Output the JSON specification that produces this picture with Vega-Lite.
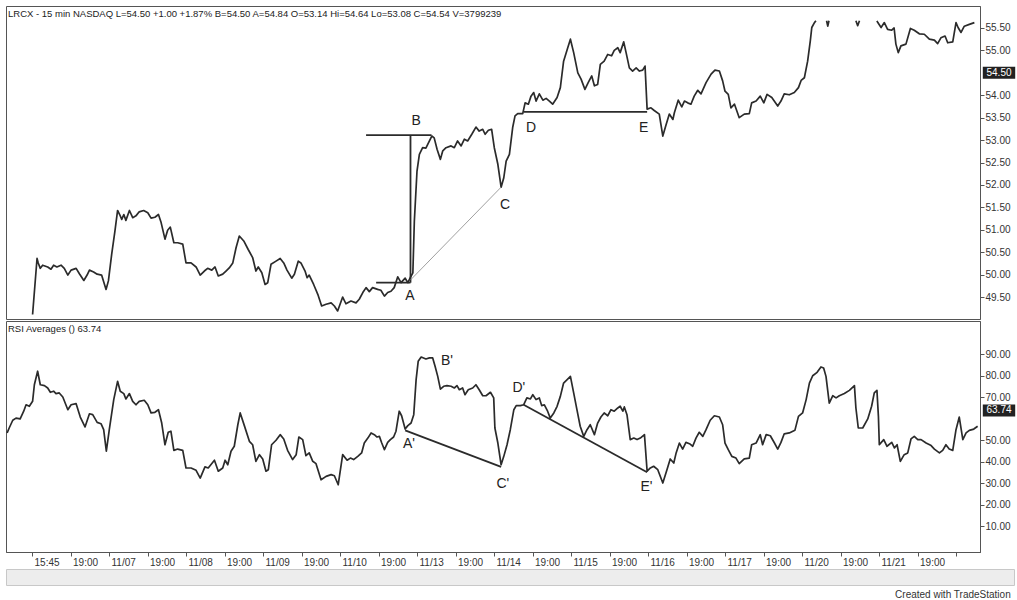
{
  "$schema": "https://vega.github.io/schema/vega-lite/v6.json",
  "padding": {"left": 5, "top": 5, "right": 0, "bottom": 0},
  "background": "white",
  "config": {
    "font": "Liberation Sans",
    "view": {"stroke": "#555555", "strokeWidth": 1},
    "axis": {"grid": false, "labelFont": "Liberation Sans", "labelFontSize": 10, "labelColor": "#333333", "domainColor": "#555555", "tickColor": "#555555", "title": null}
  },
  "title": {"text": "Created with TradeStation", "orient": "bottom", "anchor": "end", "frame": "bounds", "fontSize": 10, "fontWeight": "normal", "color": "#333333", "offset": 4, "dx": -5},
  "datasets": {
    "price": [
      {"b":0.2,"p":49.11,"s":1},{"b":1.7,"p":50.36,"s":1},{"b":2.1,"p":50.26,"s":1},{"b":2.8,"p":50.14,"s":1},{"b":3.6,"p":50.21,"s":1},{"b":5.3,"p":50.17,"s":1},{"b":6.4,"p":50.12,"s":1},{"b":7.3,"p":50.21,"s":1},{"b":8.4,"p":50.17,"s":1},{"b":9.8,"p":50.21,"s":1},{"b":10.9,"p":50.14,"s":1},{"b":12.1,"p":49.99,"s":1},{"b":13.2,"p":50.10,"s":1},{"b":14.9,"p":50.14,"s":1},{"b":16.0,"p":50.02,"s":1},{"b":17.5,"p":49.87,"s":1},{"b":18.6,"p":49.99,"s":1},{"b":19.4,"p":50.10,"s":1},{"b":20.8,"p":50.06,"s":1},{"b":22.0,"p":50.01,"s":1},{"b":23.5,"p":49.99,"s":1},{"b":25.0,"p":49.67,"s":1},{"b":25.8,"p":49.86,"s":1},{"b":26.9,"p":50.45,"s":1},{"b":28.0,"p":50.97,"s":1},{"b":28.9,"p":51.43,"s":1},{"b":29.6,"p":51.34,"s":1},{"b":30.3,"p":51.23,"s":1},{"b":31.0,"p":51.34,"s":1},{"b":31.7,"p":51.21,"s":1},{"b":32.9,"p":51.43,"s":1},{"b":34.0,"p":51.27,"s":1},{"b":35.1,"p":51.31,"s":1},{"b":36.2,"p":51.40,"s":1},{"b":37.7,"p":51.43,"s":1},{"b":39.1,"p":51.38,"s":1},{"b":40.2,"p":51.26,"s":1},{"b":41.5,"p":51.28,"s":1},{"b":42.7,"p":51.34,"s":1},{"b":43.6,"p":51.16,"s":1},{"b":44.9,"p":50.79,"s":1},{"b":45.8,"p":50.99,"s":1},{"b":46.7,"p":51.06,"s":1},{"b":47.9,"p":50.71,"s":1},{"b":49.2,"p":50.71,"s":1},{"b":50.9,"p":50.68,"s":1},{"b":52.0,"p":50.26,"s":1},{"b":53.7,"p":50.26,"s":1},{"b":55.4,"p":50.17,"s":1},{"b":56.8,"p":49.99,"s":1},{"b":58.2,"p":50.08,"s":1},{"b":59.3,"p":50.14,"s":1},{"b":60.7,"p":50.10,"s":1},{"b":61.8,"p":50.17,"s":1},{"b":62.9,"p":49.97,"s":1},{"b":64.4,"p":50.01,"s":1},{"b":65.5,"p":50.08,"s":1},{"b":66.6,"p":50.15,"s":1},{"b":67.8,"p":50.26,"s":1},{"b":68.9,"p":50.60,"s":1},{"b":70.0,"p":50.86,"s":1},{"b":71.5,"p":50.75,"s":1},{"b":73.0,"p":50.56,"s":1},{"b":74.5,"p":50.38,"s":1},{"b":75.6,"p":50.08,"s":1},{"b":76.4,"p":50.17,"s":1},{"b":77.6,"p":50.04,"s":1},{"b":78.7,"p":49.78,"s":1},{"b":79.6,"p":49.82,"s":1},{"b":80.7,"p":50.23,"s":1},{"b":82.4,"p":50.30,"s":1},{"b":83.8,"p":50.36,"s":1},{"b":85.0,"p":50.26,"s":1},{"b":86.1,"p":50.10,"s":1},{"b":87.7,"p":49.92,"s":1},{"b":88.6,"p":50.01,"s":1},{"b":89.9,"p":50.30,"s":1},{"b":90.8,"p":50.26,"s":1},{"b":92.2,"p":50.08,"s":1},{"b":92.9,"p":49.93,"s":1},{"b":93.6,"p":49.99,"s":1},{"b":95.1,"p":49.78,"s":1},{"b":96.5,"p":49.56,"s":1},{"b":97.8,"p":49.30,"s":1},{"b":99.3,"p":49.34,"s":1},{"b":101.0,"p":49.37,"s":1},{"b":102.1,"p":49.30,"s":1},{"b":103.2,"p":49.19,"s":1},{"b":104.9,"p":49.50,"s":1},{"b":106.0,"p":49.35,"s":1},{"b":107.7,"p":49.41,"s":1},{"b":109.4,"p":49.37,"s":1},{"b":110.5,"p":49.45,"s":1},{"b":111.7,"p":49.60,"s":1},{"b":112.8,"p":49.71,"s":1},{"b":113.9,"p":49.62,"s":1},{"b":115.0,"p":49.71,"s":1},{"b":116.7,"p":49.67,"s":1},{"b":117.8,"p":49.65,"s":1},{"b":119.0,"p":49.52,"s":1},{"b":120.1,"p":49.60,"s":1},{"b":121.2,"p":49.63,"s":1},{"b":122.3,"p":49.71,"s":1},{"b":123.5,"p":49.95,"s":1},{"b":124.6,"p":49.82,"s":1},{"b":126.0,"p":49.92,"s":1},{"b":126.9,"p":49.82,"s":1},{"b":127.7,"p":49.93,"s":1},{"b":128.6,"p":50.04,"s":1},{"b":129.1,"p":51.19,"s":1},{"b":130.0,"p":52.31,"s":1},{"b":130.8,"p":52.68,"s":1},{"b":131.9,"p":52.83,"s":1},{"b":133.0,"p":52.82,"s":1},{"b":134.2,"p":52.98,"s":1},{"b":135.0,"p":53.09,"s":1},{"b":135.8,"p":53.05,"s":1},{"b":136.8,"p":52.79,"s":1},{"b":137.9,"p":52.57,"s":1},{"b":138.7,"p":52.76,"s":1},{"b":139.8,"p":52.83,"s":1},{"b":141.5,"p":52.87,"s":1},{"b":142.6,"p":52.83,"s":1},{"b":143.7,"p":52.98,"s":1},{"b":144.9,"p":52.87,"s":1},{"b":146.0,"p":53.02,"s":1},{"b":147.1,"p":52.98,"s":1},{"b":148.5,"p":53.13,"s":1},{"b":149.9,"p":53.29,"s":1},{"b":151.0,"p":53.20,"s":1},{"b":152.2,"p":53.24,"s":1},{"b":153.0,"p":53.13,"s":1},{"b":154.1,"p":53.22,"s":1},{"b":155.2,"p":53.24,"s":1},{"b":156.1,"p":52.83,"s":1},{"b":157.3,"p":52.46,"s":1},{"b":158.4,"p":51.95,"s":1},{"b":159.3,"p":52.16,"s":1},{"b":160.1,"p":52.53,"s":1},{"b":161.2,"p":52.68,"s":1},{"b":162.3,"p":53.28,"s":1},{"b":163.1,"p":53.54,"s":1},{"b":164.0,"p":53.59,"s":1},{"b":165.7,"p":53.59,"s":1},{"b":166.5,"p":53.83,"s":1},{"b":167.6,"p":53.80,"s":1},{"b":168.5,"p":53.98,"s":1},{"b":169.4,"p":54.06,"s":1},{"b":170.2,"p":53.87,"s":1},{"b":171.3,"p":54.03,"s":1},{"b":172.5,"p":53.89,"s":1},{"b":173.6,"p":53.93,"s":1},{"b":174.7,"p":53.87,"s":1},{"b":175.8,"p":53.80,"s":1},{"b":177.3,"p":53.95,"s":1},{"b":178.4,"p":54.17,"s":1},{"b":179.5,"p":54.76,"s":1},{"b":180.9,"p":55.06,"s":1},{"b":181.8,"p":55.25,"s":1},{"b":182.9,"p":54.95,"s":1},{"b":184.3,"p":54.50,"s":1},{"b":185.4,"p":54.36,"s":1},{"b":186.7,"p":54.13,"s":1},{"b":187.8,"p":54.28,"s":1},{"b":189.0,"p":54.43,"s":1},{"b":189.9,"p":54.21,"s":1},{"b":191.0,"p":54.24,"s":1},{"b":191.9,"p":54.69,"s":1},{"b":193.2,"p":54.76,"s":1},{"b":194.4,"p":54.91,"s":1},{"b":195.7,"p":54.88,"s":1},{"b":196.6,"p":55.00,"s":1},{"b":197.8,"p":55.06,"s":1},{"b":198.6,"p":54.95,"s":1},{"b":199.8,"p":55.19,"s":1},{"b":200.6,"p":54.95,"s":1},{"b":201.7,"p":54.61,"s":1},{"b":202.8,"p":54.54,"s":1},{"b":204.0,"p":54.61,"s":1},{"b":205.1,"p":54.54,"s":1},{"b":206.2,"p":54.56,"s":1},{"b":207.0,"p":54.65,"s":1},{"b":207.7,"p":53.69,"s":1},{"b":209.0,"p":53.72,"s":1},{"b":210.1,"p":53.66,"s":1},{"b":211.8,"p":53.58,"s":1},{"b":213.0,"p":53.09,"s":1},{"b":214.1,"p":53.34,"s":1},{"b":215.2,"p":53.58,"s":1},{"b":216.4,"p":53.46,"s":1},{"b":216.9,"p":53.61,"s":1},{"b":218.2,"p":53.89,"s":1},{"b":219.4,"p":53.74,"s":1},{"b":220.3,"p":53.87,"s":1},{"b":221.4,"p":53.83,"s":1},{"b":222.5,"p":53.80,"s":1},{"b":223.6,"p":53.98,"s":1},{"b":224.8,"p":54.11,"s":1},{"b":225.9,"p":54.03,"s":1},{"b":227.6,"p":54.28,"s":1},{"b":229.3,"p":54.47,"s":1},{"b":230.6,"p":54.56,"s":1},{"b":232.1,"p":54.54,"s":1},{"b":233.2,"p":54.32,"s":1},{"b":234.0,"p":54.09,"s":1},{"b":235.1,"p":54.02,"s":1},{"b":236.0,"p":53.72,"s":1},{"b":237.2,"p":53.80,"s":1},{"b":238.8,"p":53.50,"s":1},{"b":240.5,"p":53.58,"s":1},{"b":242.2,"p":53.59,"s":1},{"b":243.0,"p":53.83,"s":1},{"b":244.5,"p":53.87,"s":1},{"b":245.9,"p":53.98,"s":1},{"b":247.1,"p":53.83,"s":1},{"b":248.2,"p":54.02,"s":1},{"b":249.8,"p":53.95,"s":1},{"b":251.8,"p":53.76,"s":1},{"b":252.9,"p":53.87,"s":1},{"b":254.0,"p":54.03,"s":1},{"b":255.7,"p":54.01,"s":1},{"b":257.4,"p":54.06,"s":1},{"b":258.8,"p":54.17,"s":1},{"b":259.7,"p":54.33,"s":1},{"b":260.8,"p":54.39,"s":1},{"b":261.9,"p":54.76,"s":1},{"b":262.8,"p":55.21,"s":1},{"b":263.3,"p":55.51,"s":1},{"b":264.2,"p":55.62,"s":1},{"b":264.7,"p":55.66,"s":1},
      {"b":268.3,"p":55.66,"s":2},{"b":268.7,"p":55.54,"s":2},{"b":269.1,"p":55.66,"s":2},
      {"b":278.2,"p":55.66,"s":3},{"b":278.8,"p":55.55,"s":3},{"b":279.4,"p":55.66,"s":3},
      {"b":285.3,"p":55.66,"s":4},{"b":285.6,"p":55.62,"s":4},{"b":286.7,"p":55.51,"s":4},{"b":287.8,"p":55.62,"s":4},{"b":288.9,"p":55.47,"s":4},{"b":290.3,"p":55.45,"s":4},{"b":291.1,"p":55.50,"s":4},{"b":291.7,"p":55.14,"s":4},{"b":292.5,"p":54.95,"s":4},{"b":293.4,"p":55.10,"s":4},{"b":295.1,"p":55.14,"s":4},{"b":296.6,"p":55.49,"s":4},{"b":297.9,"p":55.45,"s":4},{"b":299.6,"p":55.37,"s":4},{"b":301.3,"p":55.36,"s":4},{"b":303.0,"p":55.25,"s":4},{"b":304.7,"p":55.23,"s":4},{"b":305.8,"p":55.15,"s":4},{"b":306.9,"p":55.28,"s":4},{"b":308.3,"p":55.32,"s":4},{"b":309.2,"p":55.17,"s":4},{"b":310.9,"p":55.19,"s":4},{"b":312.0,"p":55.62,"s":4},{"b":312.7,"p":55.51,"s":4},{"b":313.7,"p":55.40,"s":4},{"b":314.8,"p":55.54,"s":4},{"b":316.5,"p":55.58,"s":4},{"b":318.2,"p":55.62,"s":4}
    ],
    "rsi": [
      {"b":-8.4,"r":53.3},{"b":-7.7,"r":55.6},{"b":-6.5,"r":59.2},{"b":-5.4,"r":60.2},{"b":-4.0,"r":59.8},{"b":-2.8,"r":63.4},{"b":-2.0,"r":66.4},{"b":-0.9,"r":65.7},{"b":0.2,"r":68.0},{"b":0.8,"r":75.7},{"b":1.9,"r":82.0},{"b":2.8,"r":75.7},{"b":4.2,"r":75.3},{"b":5.3,"r":74.2},{"b":6.2,"r":72.2},{"b":7.3,"r":72.7},{"b":8.1,"r":71.6},{"b":9.2,"r":71.9},{"b":10.4,"r":70.0},{"b":12.1,"r":64.1},{"b":13.2,"r":66.4},{"b":14.9,"r":66.9},{"b":16.3,"r":60.7},{"b":17.9,"r":56.1},{"b":19.4,"r":62.2},{"b":20.5,"r":61.8},{"b":22.0,"r":58.2},{"b":23.3,"r":57.6},{"b":24.2,"r":54.8},{"b":25.1,"r":44.8},{"b":26.1,"r":54.8},{"b":27.6,"r":68.8},{"b":28.9,"r":77.3},{"b":29.8,"r":72.7},{"b":31.0,"r":71.6},{"b":31.7,"r":69.1},{"b":32.9,"r":71.6},{"b":34.0,"r":68.0},{"b":35.1,"r":66.4},{"b":36.2,"r":68.0},{"b":37.9,"r":68.5},{"b":39.1,"r":66.4},{"b":40.2,"r":62.6},{"b":41.5,"r":62.9},{"b":42.7,"r":64.1},{"b":43.8,"r":57.9},{"b":44.9,"r":47.8},{"b":46.0,"r":53.6},{"b":46.9,"r":54.1},{"b":47.9,"r":45.2},{"b":49.2,"r":45.8},{"b":50.9,"r":45.2},{"b":52.0,"r":37.0},{"b":53.7,"r":37.0},{"b":55.4,"r":35.9},{"b":56.8,"r":32.3},{"b":58.4,"r":37.5},{"b":59.5,"r":37.0},{"b":61.6,"r":40.6},{"b":62.9,"r":35.5},{"b":64.4,"r":37.0},{"b":65.2,"r":40.6},{"b":66.1,"r":38.5},{"b":67.2,"r":44.8},{"b":68.3,"r":47.1},{"b":69.5,"r":57.1},{"b":70.3,"r":62.6},{"b":71.7,"r":56.7},{"b":73.4,"r":49.4},{"b":74.5,"r":47.8},{"b":75.6,"r":40.1},{"b":76.8,"r":43.2},{"b":77.9,"r":41.2},{"b":79.0,"r":35.5},{"b":79.8,"r":36.2},{"b":80.9,"r":47.8},{"b":82.4,"r":49.9},{"b":83.8,"r":52.5},{"b":85.0,"r":50.5},{"b":86.3,"r":45.2},{"b":88.0,"r":40.9},{"b":89.2,"r":43.2},{"b":90.1,"r":51.4},{"b":91.4,"r":50.2},{"b":92.5,"r":42.7},{"b":93.6,"r":44.0},{"b":94.8,"r":40.1},{"b":95.9,"r":39.0},{"b":97.6,"r":31.5},{"b":99.3,"r":33.1},{"b":101.0,"r":33.9},{"b":102.1,"r":33.4},{"b":103.4,"r":29.2},{"b":104.9,"r":43.2},{"b":106.4,"r":40.6},{"b":107.5,"r":41.6},{"b":108.6,"r":40.9},{"b":110.0,"r":42.4},{"b":111.3,"r":44.0},{"b":112.2,"r":48.6},{"b":113.4,"r":50.9},{"b":114.5,"r":53.3},{"b":115.6,"r":52.5},{"b":116.5,"r":51.4},{"b":117.3,"r":51.7},{"b":118.1,"r":48.6},{"b":119.0,"r":45.5},{"b":120.1,"r":48.9},{"b":121.0,"r":50.2},{"b":122.1,"r":51.4},{"b":122.9,"r":54.1},{"b":124.0,"r":63.4},{"b":124.8,"r":61.3},{"b":126.0,"r":55.1},{"b":126.9,"r":56.7},{"b":128.0,"r":57.9},{"b":128.9,"r":61.8},{"b":129.7,"r":78.1},{"b":130.4,"r":86.6},{"b":131.4,"r":88.6},{"b":133.0,"r":87.7},{"b":134.2,"r":88.2},{"b":135.3,"r":88.2},{"b":136.1,"r":84.3},{"b":137.0,"r":79.6},{"b":137.9,"r":73.7},{"b":139.0,"r":75.0},{"b":140.1,"r":75.3},{"b":141.5,"r":75.0},{"b":142.6,"r":74.2},{"b":143.5,"r":75.3},{"b":144.3,"r":73.4},{"b":145.4,"r":74.2},{"b":146.2,"r":71.1},{"b":147.3,"r":73.4},{"b":148.8,"r":74.2},{"b":149.9,"r":75.7},{"b":151.0,"r":73.4},{"b":152.2,"r":70.6},{"b":153.3,"r":70.6},{"b":154.8,"r":72.2},{"b":155.9,"r":69.6},{"b":156.3,"r":55.6},{"b":157.3,"r":48.6},{"b":158.4,"r":38.5},{"b":159.3,"r":42.4},{"b":160.4,"r":47.8},{"b":161.5,"r":54.8},{"b":162.7,"r":64.1},{"b":163.5,"r":66.0},{"b":164.9,"r":66.0},{"b":166.0,"r":66.4},{"b":167.1,"r":69.6},{"b":168.3,"r":69.1},{"b":169.1,"r":71.1},{"b":170.2,"r":68.8},{"b":171.3,"r":69.6},{"b":172.1,"r":66.0},{"b":173.0,"r":66.4},{"b":174.1,"r":63.4},{"b":175.0,"r":60.2},{"b":176.2,"r":62.6},{"b":177.3,"r":65.7},{"b":178.4,"r":70.3},{"b":179.5,"r":76.5},{"b":180.7,"r":78.1},{"b":181.8,"r":79.6},{"b":182.9,"r":71.9},{"b":184.0,"r":64.1},{"b":185.1,"r":56.4},{"b":186.3,"r":51.7},{"b":187.4,"r":54.8},{"b":188.5,"r":57.1},{"b":189.9,"r":52.5},{"b":191.0,"r":57.9},{"b":192.1,"r":60.7},{"b":193.2,"r":62.6},{"b":194.4,"r":61.3},{"b":195.5,"r":64.1},{"b":196.6,"r":63.4},{"b":197.8,"r":64.9},{"b":198.6,"r":65.7},{"b":199.5,"r":63.4},{"b":200.0,"r":65.4},{"b":200.9,"r":61.8},{"b":202.0,"r":50.2},{"b":203.2,"r":50.9},{"b":204.3,"r":50.2},{"b":205.4,"r":50.9},{"b":206.8,"r":52.5},{"b":207.7,"r":35.5},{"b":208.8,"r":37.0},{"b":209.9,"r":37.8},{"b":211.3,"r":36.2},{"b":213.0,"r":30.0},{"b":214.4,"r":36.2},{"b":215.5,"r":41.2},{"b":216.7,"r":39.3},{"b":217.5,"r":44.0},{"b":218.6,"r":48.6},{"b":219.7,"r":45.8},{"b":220.8,"r":48.9},{"b":222.0,"r":48.3},{"b":223.1,"r":47.1},{"b":224.2,"r":50.9},{"b":225.3,"r":53.6},{"b":226.5,"r":51.7},{"b":227.6,"r":54.8},{"b":229.0,"r":59.2},{"b":230.4,"r":61.3},{"b":232.1,"r":60.7},{"b":233.2,"r":57.1},{"b":234.0,"r":48.6},{"b":235.1,"r":45.5},{"b":236.3,"r":42.4},{"b":237.7,"r":41.6},{"b":238.8,"r":39.0},{"b":240.5,"r":41.2},{"b":242.2,"r":41.6},{"b":243.0,"r":47.8},{"b":244.5,"r":48.6},{"b":245.9,"r":52.5},{"b":246.7,"r":47.8},{"b":247.9,"r":52.5},{"b":249.3,"r":52.0},{"b":250.7,"r":48.6},{"b":251.8,"r":45.8},{"b":252.9,"r":48.9},{"b":254.0,"r":52.9},{"b":255.7,"r":53.3},{"b":257.6,"r":54.5},{"b":258.8,"r":61.0},{"b":260.2,"r":62.6},{"b":261.4,"r":68.8},{"b":262.5,"r":76.5},{"b":263.6,"r":79.9},{"b":265.1,"r":81.5},{"b":266.4,"r":84.0},{"b":267.3,"r":83.5},{"b":268.1,"r":79.6},{"b":269.2,"r":67.2},{"b":270.4,"r":70.6},{"b":271.5,"r":69.6},{"b":272.6,"r":70.6},{"b":274.3,"r":71.6},{"b":276.0,"r":73.1},{"b":277.7,"r":75.3},{"b":278.2,"r":64.9},{"b":279.0,"r":55.6},{"b":280.5,"r":55.6},{"b":282.2,"r":59.8},{"b":283.5,"r":65.7},{"b":284.4,"r":71.9},{"b":285.3,"r":73.1},{"b":285.8,"r":61.0},{"b":286.1,"r":47.8},{"b":287.6,"r":50.2},{"b":288.7,"r":47.1},{"b":290.3,"r":48.9},{"b":291.2,"r":46.3},{"b":292.1,"r":47.8},{"b":293.2,"r":40.1},{"b":294.5,"r":43.2},{"b":295.7,"r":44.0},{"b":296.8,"r":50.5},{"b":297.9,"r":51.7},{"b":299.1,"r":50.2},{"b":300.2,"r":50.2},{"b":301.9,"r":48.6},{"b":303.6,"r":47.4},{"b":304.7,"r":45.8},{"b":306.4,"r":44.0},{"b":307.5,"r":45.2},{"b":308.6,"r":47.8},{"b":309.7,"r":45.8},{"b":310.9,"r":45.2},{"b":312.0,"r":54.8},{"b":313.1,"r":60.7},{"b":314.3,"r":50.2},{"b":315.4,"r":53.3},{"b":316.5,"r":54.5},{"b":318.0,"r":55.1},{"b":319.3,"r":56.4}
    ]
  },
  "vconcat": [
    {
      "width": 974,
      "height": 313,
      "title": {"text": "LRCX - 15 min  NASDAQ L=54.50 +1.00 +1.87% B=54.50 A=54.84 O=53.14 Hi=54.64 Lo=53.08 C=54.54 V=3799239", "anchor": "start", "frame": "group", "orient": "top", "offset": -12, "fontSize": 9.5, "fontWeight": "normal", "color": "#222222", "dx": 2},
      "encoding": {
        "x": {"field": "b", "type": "quantitative", "scale": {"domain": [-8.78, 320.1], "nice": false, "zero": false}, "axis": null},
        "y": {"field": "p", "type": "quantitative", "scale": {"domain": [49.01, 55.99], "nice": false, "zero": false},
              "axis": {"orient": "right", "values": [49.5, 50, 50.5, 51, 51.5, 52, 52.5, 53, 53.5, 54, 55, 55.5], "format": ".2f", "tickSize": 4, "labelPadding": 1}}
      },
      "layer": [
        {
          "data": {"name": "price"},
          "mark": {"type": "line", "clip": true, "stroke": "#2b2b2b", "strokeWidth": 1.7, "strokeJoin": "round"},
          "encoding": {"detail": {"field": "s", "type": "nominal"}}
        },
        {
          "data": {"values": [
            {"g": "Bh", "b": 112.8, "p": 53.11}, {"g": "Bh", "b": 134.9, "p": 53.11},
            {"g": "AB", "b": 127.8, "p": 53.11}, {"g": "AB", "b": 127.8, "p": 49.82},
            {"g": "Ah", "b": 116.2, "p": 49.82}, {"g": "Ah", "b": 127.8, "p": 49.82},
            {"g": "DE", "b": 166.0, "p": 53.63}, {"g": "DE", "b": 207.7, "p": 53.63}
          ]},
          "mark": {"type": "line", "stroke": "#2b2b2b", "strokeWidth": 1.8},
          "encoding": {"detail": {"field": "g", "type": "nominal"}}
        },
        {
          "data": {"values": [{"b": 127.8, "p": 49.88}, {"b": 158.4, "p": 51.95}]},
          "mark": {"type": "line", "stroke": "#888888", "strokeWidth": 0.8},
          "encoding": {}
        },
        {
          "data": {"values": [
            {"t": "B", "b": 129.7, "p": 53.43}, {"t": "A", "b": 127.6, "p": 49.52},
            {"t": "C", "b": 159.7, "p": 51.55}, {"t": "D", "b": 168.5, "p": 53.27},
            {"t": "E", "b": 206.5, "p": 53.27}
          ]},
          "mark": {"type": "text", "fontSize": 14, "color": "#222222"},
          "encoding": {"text": {"field": "t"}}
        },
        {
          "data": {"values": [{"b": 320.1, "p": 54.5, "t": "54.50"}]},
          "mark": {"type": "point", "shape": "M-1.35,-0.5H1.35V0.5H-1.35Z", "filled": true, "color": "#222222", "opacity": 1, "size": 576, "strokeWidth": 0},
          "encoding": {"xOffset": {"value": 19}}
        },
        {
          "data": {"values": [{"b": 320.1, "p": 54.5, "t": "54.50"}]},
          "mark": {"type": "text", "fontSize": 10, "color": "white", "dx": 19, "align": "center"},
          "encoding": {"text": {"field": "t"}}
        }
      ]
    },
    {
      "width": 974,
      "height": 231,
      "title": {"text": "RSI Averages ()  63.74", "anchor": "start", "frame": "group", "orient": "top", "offset": -12, "fontSize": 9.5, "fontWeight": "normal", "color": "#222222", "dx": 2},
      "encoding": {
        "x": {"field": "b", "type": "quantitative", "scale": {"domain": [-8.78, 320.1], "nice": false, "zero": false},
              "axis": {"values": [0, 13, 26, 39, 52, 65, 78, 91, 104, 117, 130, 143, 156, 169, 182, 195, 208, 221, 234, 247, 260, 273, 286, 299, 312],
                       "labelExpr": "['15:45','19:00','11/07','19:00','11/08','19:00','11/09','19:00','11/10','19:00','11/13','19:00','11/14','19:00','11/15','19:00','11/16','19:00','11/17','19:00','11/20','19:00','11/21','19:00',''][round(datum.value/13)]",
                       "labelAlign": "left", "labelOffset": 2, "labelPadding": 1, "tickSize": 4, "labelFlush": false, "labelOverlap": false}},
        "y": {"field": "r", "type": "quantitative", "scale": {"domain": [-2.08, 105.36], "nice": false, "zero": false},
              "axis": {"orient": "right", "values": [10, 20, 30, 40, 50, 70, 80, 90], "format": ".2f", "tickSize": 4, "labelPadding": 1}}
      },
      "layer": [
        {
          "data": {"name": "rsi"},
          "mark": {"type": "line", "clip": true, "stroke": "#2b2b2b", "strokeWidth": 1.7, "strokeJoin": "round"},
          "encoding": {}
        },
        {
          "data": {"values": [
            {"g": "AC", "b": 126.0, "r": 54.5}, {"g": "AC", "b": 158.4, "r": 37.5},
            {"g": "DE", "b": 166.0, "r": 66.4}, {"g": "DE", "b": 207.7, "r": 35.0}
          ]},
          "mark": {"type": "line", "stroke": "#2b2b2b", "strokeWidth": 1.8},
          "encoding": {"detail": {"field": "g", "type": "nominal"}}
        },
        {
          "data": {"values": [
            {"t": "B'", "b": 140.1, "r": 86.8}, {"t": "A'", "b": 127.3, "r": 48.2},
            {"t": "C'", "b": 159.0, "r": 29.6}, {"t": "D'", "b": 164.4, "r": 74.2},
            {"t": "E'", "b": 207.5, "r": 28.2}
          ]},
          "mark": {"type": "text", "fontSize": 14, "color": "#222222"},
          "encoding": {"text": {"field": "t"}}
        },
        {
          "data": {"values": [{"b": 320.1, "r": 63.74, "t": "63.74"}]},
          "mark": {"type": "point", "shape": "M-1.35,-0.5H1.35V0.5H-1.35Z", "filled": true, "color": "#222222", "opacity": 1, "size": 576, "strokeWidth": 0},
          "encoding": {"xOffset": {"value": 19}}
        },
        {
          "data": {"values": [{"b": 320.1, "r": 63.74, "t": "63.74"}]},
          "mark": {"type": "text", "fontSize": 10, "color": "white", "dx": 19, "align": "center"},
          "encoding": {"text": {"field": "t"}}
        }
      ]
    },
    {
      "width": 1008,
      "height": 16,
      "view": {"fill": "#ededed", "stroke": "#c8c8c8"},
      "data": {"values": []},
      "mark": {"type": "rule"},
      "encoding": {}
    }
  ],
  "spacing": 0,
  "resolve": {"scale": {"y": "independent"}}
}
